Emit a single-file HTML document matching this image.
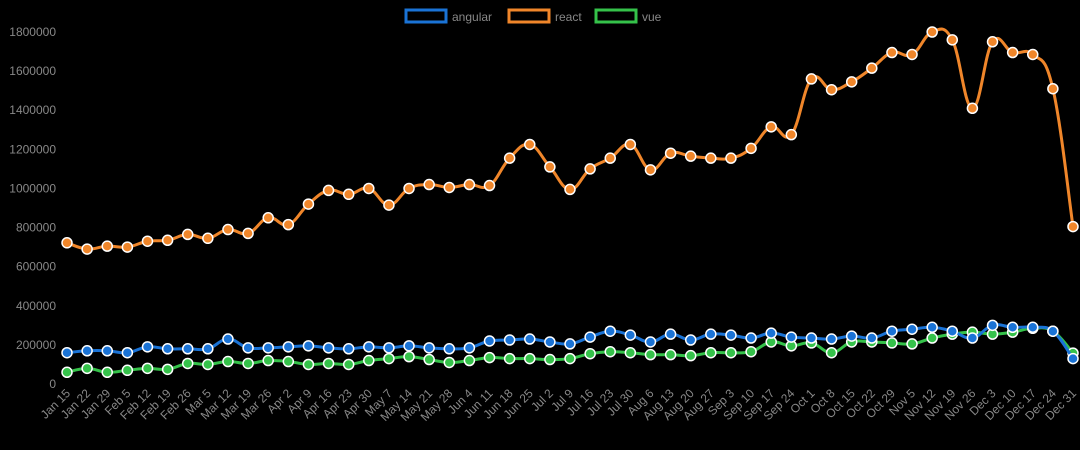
<!DOCTYPE html>
<html><head><meta charset="utf-8"><style>
html,body{margin:0;padding:0;background:#000;}
svg{display:block;font-family:"Liberation Sans",sans-serif;}
</style></head><body>
<svg id="c" width="1080" height="450" xmlns="http://www.w3.org/2000/svg">
<rect width="1080" height="450" fill="#000"/>
<rect x="406" y="10" width="40" height="12" fill="none" stroke="#1a73d6" stroke-width="3"/>
<text x="452" y="21" fill="#888" font-size="12">angular</text>
<rect x="509" y="10" width="40" height="12" fill="none" stroke="#f0862a" stroke-width="3"/>
<text x="555" y="21" fill="#888" font-size="12">react</text>
<rect x="596" y="10" width="40" height="12" fill="none" stroke="#35c24a" stroke-width="3"/>
<text x="642" y="21" fill="#888" font-size="12">vue</text>
</svg>
<script>
var svg=document.getElementById('c'),NS='http://www.w3.org/2000/svg';
function el(t,a,txt){var e=document.createElementNS(NS,t);for(var k in a)e.setAttribute(k,a[k]);if(txt)e.textContent=txt;svg.appendChild(e);return e;}
var y0=384,sc=352/1800000;
for(var v=0;v<=1800000;v+=200000){el('text',{x:56,y:y0-v*sc+4,'text-anchor':'end',fill:'#888','font-size':12},String(v));}
var labels=[];var d=new Date(2018,0,15);var M=['Jan','Feb','Mar','Apr','May','Jun','Jul','Aug','Sep','Oct','Nov','Dec'];
for(var i=0;i<51;i++){labels.push(M[d.getMonth()]+' '+d.getDate());d.setDate(d.getDate()+7);}
function X(i){return 67+i*20.12;}
labels.forEach(function(l,i){var x=X(i)+4,y=394;el('text',{x:x,y:y,'text-anchor':'end',fill:'#888','font-size':12,transform:'rotate(-45 '+x+' '+y+')'},l);});
var react=[722,690,705,700,730,735,765,745,790,770,850,815,920,990,970,1000,915,1000,1020,1005,1020,1015,1155,1225,1110,995,1100,1155,1225,1095,1180,1165,1155,1155,1205,1315,1275,1560,1505,1545,1615,1695,1685,1800,1760,1410,1750,1695,1685,1510,805];
var ang=[160,170,170,160,190,180,180,180,230,185,185,190,195,185,180,190,185,195,185,180,185,220,225,230,215,205,240,270,250,215,255,225,255,250,235,260,240,235,230,245,235,270,280,290,270,235,300,290,290,270,130];
var vue=[60,80,60,70,80,75,105,100,115,105,120,115,100,105,100,120,130,140,125,110,120,135,130,130,125,130,155,165,160,150,150,145,160,160,165,215,195,210,160,215,215,210,205,235,255,265,255,265,285,270,158];
function draw(data,col){
var p=data.map(function(v,i){return [X(i),y0-v*1000*sc];});
var s='M'+p[0][0]+','+p[0][1],t=0.4/2*1;
for(var i=0;i<p.length-1;i++){var a=p[Math.max(0,i-1)],b=p[i],c=p[i+1],e=p[Math.min(p.length-1,i+2)];
var k=0.2;
s+=' C'+(b[0]+(c[0]-a[0])*k)+','+(b[1]+(c[1]-a[1])*k)+' '+(c[0]-(e[0]-b[0])*k)+','+(c[1]-(e[1]-b[1])*k)+' '+c[0]+','+c[1];}
el('path',{d:s,fill:'none',stroke:col,'stroke-width':3});
p.forEach(function(q){el('circle',{cx:q[0],cy:q[1],r:5,fill:col,stroke:'#fff','stroke-width':1.5});});
}
draw(vue,'#35c24a');draw(ang,'#1a73d6');draw(react,'#f0862a');
</script>
</body></html>
